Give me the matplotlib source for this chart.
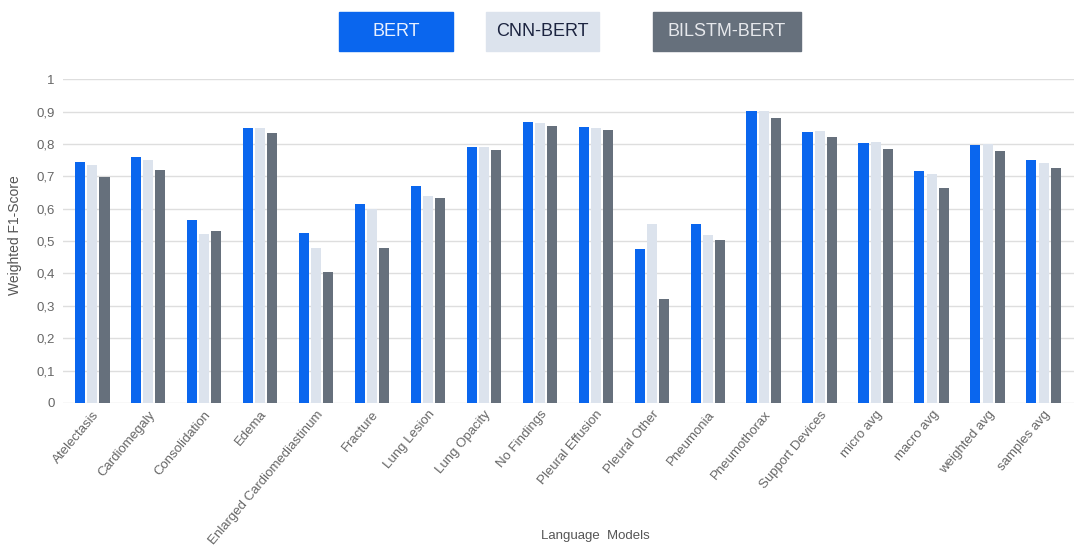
import numpy as np
import matplotlib
matplotlib.use('Agg')
import matplotlib.pyplot as plt
from matplotlib.ticker import FuncFormatter

plt.rcParams['font.family'] = ['Liberation Sans', 'DejaVu Sans']

labels = ['Atelectasis', 'Cardiomegaly', 'Consolidation', 'Edema',
          'Enlarged Cardiomediastinum', 'Fracture', 'Lung Lesion',
          'Lung Opacity', 'No Findings', 'Pleural Effusion', 'Pleural Other',
          'Pneumonia', 'Pneumothorax', 'Support Devices', 'micro avg',
          'macro avg', 'weighted avg', 'samples avg']
models = ['BERT', 'CNN-BERT', 'BILSTM-BERT']
bert =   [0.743, 0.760, 0.566, 0.850, 0.525, 0.615, 0.670, 0.791, 0.867,
          0.853, 0.477, 0.553, 0.902, 0.837, 0.802, 0.715, 0.798, 0.750]
cnn =    [0.735, 0.749, 0.522, 0.848, 0.480, 0.600, 0.639, 0.791, 0.866,
          0.848, 0.553, 0.519, 0.902, 0.839, 0.805, 0.707, 0.800, 0.742]
bilstm = [0.699, 0.718, 0.532, 0.834, 0.405, 0.480, 0.632, 0.781, 0.856,
          0.844, 0.322, 0.504, 0.881, 0.822, 0.784, 0.663, 0.777, 0.726]

colors = ['#0a66ee', '#dce3ed', '#66707c']
text_colors = ['#e8f0ff', '#1c2440', '#e6e8ec']

fig = plt.figure(figsize=(10.76, 5.46), dpi=100)
ax = fig.add_axes([0.0586, 0.262, 0.94, 0.593])

ind = np.arange(len(labels))
width = 0.18
step = 0.22
for k, vals in enumerate([bert, cnn, bilstm]):
    ax.bar(ind + (k - 1) * step, vals, width, color=colors[k], zorder=3)

ax.set_ylim(0, 1)
ax.set_xlim(-0.52, len(labels) - 0.45)
ax.set_yticks(np.arange(0, 1.01, 0.1))
ax.yaxis.set_major_formatter(FuncFormatter(
    lambda v, p: '0' if v == 0 else ('1' if abs(v - 1) < 1e-9 else ('%.1f' % v).replace('.', ','))))
ax.grid(axis='y', color='#dedede', linewidth=1, zorder=0)
ax.set_axisbelow(True)
for s in ax.spines.values():
    s.set_visible(False)
ax.tick_params(axis='both', length=0, colors='#666666', labelsize=9.5)
ax.tick_params(axis='y', pad=6)
ax.tick_params(axis='x', pad=4)
ax.set_xticks(ind)
ax.set_xticklabels(labels, rotation=50, ha='right', rotation_mode='anchor')

fig.text(0.014, 0.57, 'Weighted F1-Score', rotation=90, va='center', ha='center',
         fontsize=10, color='#555555')
fig.text(0.553, 0.008, 'Language  Models', ha='center', va='bottom',
         fontsize=9.5, color='#555555')

# legend boxes at the top
box_x = [0.368, 0.5045, 0.6755]
box_w = [0.106, 0.105, 0.137]
for k, name in enumerate(models):
    fig.patches.append(plt.Rectangle((box_x[k] - box_w[k] / 2, 0.907), box_w[k], 0.071,
                                     transform=fig.transFigure, color=colors[k]))
    fig.text(box_x[k], 0.9425, name, ha='center', va='center', fontsize=13,
             color=text_colors[k])

plt.savefig('out.png', dpi=100)
